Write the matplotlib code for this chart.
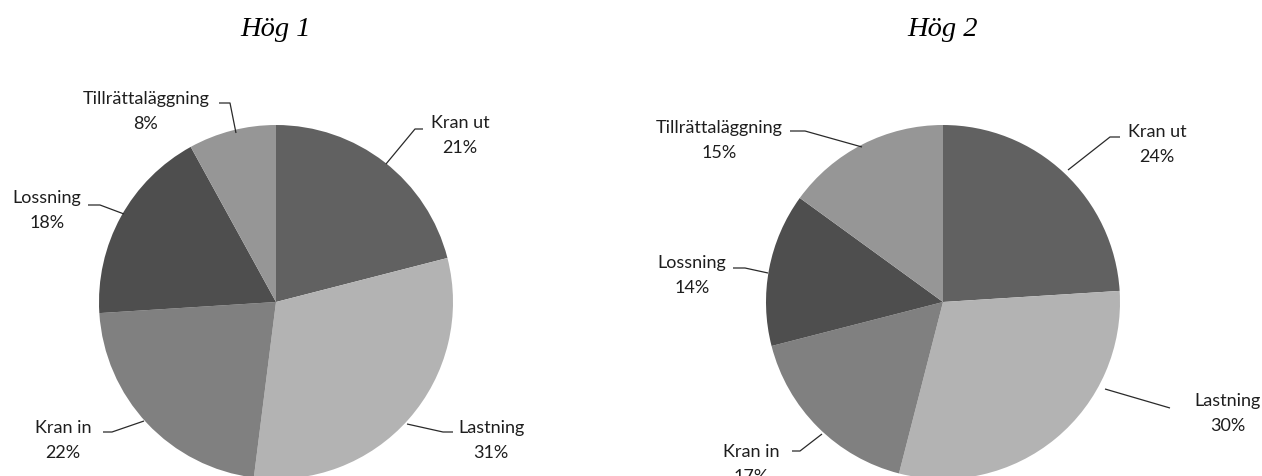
import matplotlib.pyplot as plt
import numpy as np

# data
categories = ['Kran ut', 'Lastning', 'Kran in', 'Lossning', 'Tillrättaläggning']
hog1 = [21, 31, 22, 18, 8]
hog2 = [24, 30, 17, 14, 15]
titles = ['Hög 1', 'Hög 2']
colors = ['#616161', '#b3b3b3', '#808080', '#4e4e4e', '#969696']

W, H = 1262, 476
R = 177

def fy(y):
    # image pixel row -> data y (y up)
    return H - y

# layout (image pixels)
centers = [(276, 302), (943, 302)]
label_pos = [
    [(460, 134), (491, 439), (63, 439), (47, 209), (146, 110)],
    [(1157, 143), (1228, 412), (751, 463), (692, 274), (719, 139)],
]
leaders = [
    [[(386, 164), (415, 129), (423, 129)],
     [(407, 424), (443, 432), (453, 432)],
     [(144, 421), (112, 432), (103, 432)],
     [(124, 214), (100, 205), (88, 205)],
     [(236, 133), (230, 103), (219, 103)]],
    [[(1068, 170), (1110, 137), (1120, 137)],
     [(1105, 389), (1170, 408)],
     [(822, 434), (800, 451), (792, 451)],
     [(768, 273), (745, 268), (733, 268)],
     [(862, 147), (805, 131), (790, 131)]],
]

fig = plt.figure(figsize=(W / 100, H / 100), dpi=100)
ax = fig.add_axes([0, 0, 1, 1])

lab_kw = dict(ha='center', va='baseline', family='Lato', fontsize=13, color='#1e1e1e')

for i, vals in enumerate([hog1, hog2]):
    cx, cy = centers[i]
    ax.pie(vals, colors=colors, startangle=90, counterclock=False,
           center=(cx, fy(cy)), radius=R, wedgeprops=dict(linewidth=0))
    ax.text(cx, fy(36), titles[i], ha='center', va='baseline',
            family='Liberation Serif', style='italic', fontsize=20.5, color='black')
    for j, cat in enumerate(categories):
        lx, ly = label_pos[i][j]
        ax.text(lx, fy(ly - 6), cat, **lab_kw)
        ax.text(lx, fy(ly + 19), f'{vals[j]}%', **lab_kw)
        pts = np.array(leaders[i][j], dtype=float)
        ax.plot(pts[:, 0], H - pts[:, 1], color='#2a2a2a', lw=0.9,
                solid_capstyle='butt')

ax.set_xlim(0, W)
ax.set_ylim(0, H)
ax.set_aspect('auto')
ax.axis('off')

fig.savefig('out.png', dpi=100)
